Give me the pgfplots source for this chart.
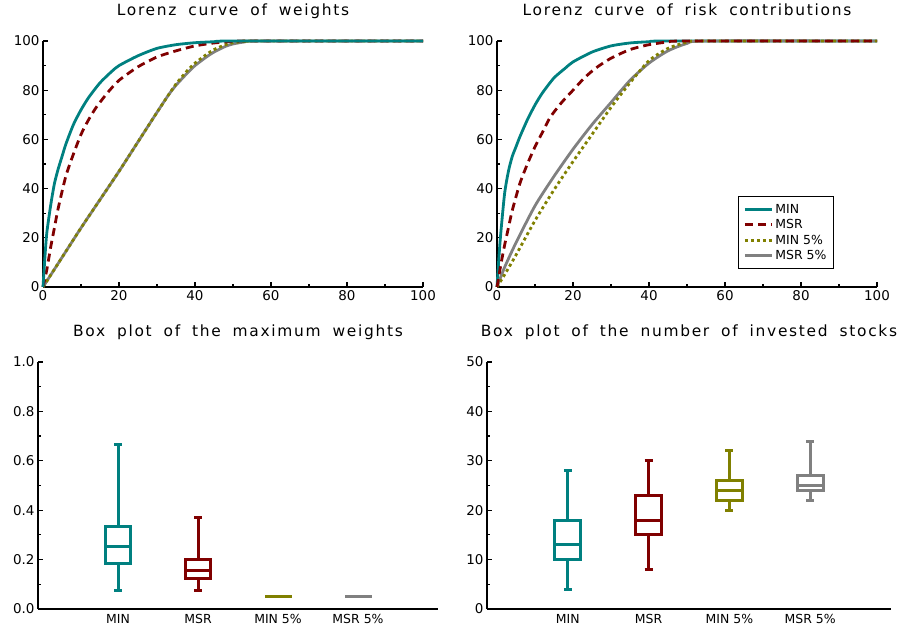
\documentclass[border=0pt]{standalone}
\usepackage{fontspec}
\setmainfont{DejaVu Sans}
\newfontfamily\titlefont[LetterSpace=11,WordSpace=1.8]{DejaVu Sans}
\usepackage{pgfplots}
\pgfplotsset{compat=1.18}
\usepgfplotslibrary{statistics}
\definecolor{cteal}{RGB}{0,128,128}
\definecolor{cred}{RGB}{128,0,0}
\definecolor{colive}{RGB}{128,128,0}
\definecolor{cgray}{RGB}{128,128,128}
\pgfplotsset{
  base/.style={
    scale only axis, clip=false,
    axis x line*=bottom, axis y line*=left,
    axis line style={line width=2.8bp,-},
    tick style={line width=1.2bp,black},
    major tick length=5bp, minor tick length=3bp,
    title style={font=\titlefont\fontsize{15.5}{15.5}\selectfont, at={(0.5,1)}, anchor=base, yshift=20bp},
    tick label style={font=\fontsize{13.5}{13.5}\selectfont},
    /pgf/number format/assume math mode=true,
  },
  lor/.style={base, width=380bp, height=246bp,
    xmin=0,xmax=100,ymin=0,ymax=100,
    xtick={0,20,40,60,80,100}, ytick={0,20,40,60,80,100}, minor tick num=1},
  bx/.style={base, width=400bp, height=247bp,
    xmin=0,xmax=5, xtick={1,2,3,4}, xticklabels={MIN,MSR,MIN 5\%,MSR 5\%},
    x tick label style={font=\fontsize{12.5}{12.5}\selectfont, yshift=-2bp},
    major x tick style={draw=none}, minor y tick num=1,
    boxplot/draw direction=y},
  cmin/.style={cteal, line width=2.8bp, smooth, tension=0.4},
  cmsr/.style={cred, line width=2.8bp, dash pattern=on 8bp off 5bp, smooth, tension=0.4},
  cmin5/.style={colive, line width=2.8bp, dash pattern=on 3bp off 3bp, smooth, tension=0.4},
  cmsr5/.style={cgray, line width=2.8bp, smooth, tension=0.4},
  bxs/.style={line width=3bp,
    boxplot/every whisker/.append style={line width=3bp},
    boxplot/every box/.append style={line width=3bp},
    boxplot/every median/.append style={line width=3bp}},
}
\begin{document}
\begin{tikzpicture}
\useasboundingbox (0,0) rectangle (899bp,630bp);
% Top-left
\begin{axis}[lor, at={(43bp,343bp)}, anchor=south west, title={Lorenz curve of weights}]
\addplot[cmsr5] coordinates {(0,0)(5,12)(10,24)(15,35.5)(20,47)(25,59)(30,71)(33,78)(35,82)(38,87)(40,90)(43,93.5)(45,95.5)(48,97.8)(50,98.8)(53,99.6)(56,100)(100,100)};
\addplot[cmin5] coordinates {(0,0)(5,12)(10,24)(15,35.5)(20,47)(25,59)(30,71)(33,78)(35,82.5)(38,88)(40,91)(43,94.5)(45,96.5)(48,98.5)(50,99.3)(53,99.8)(55,100)(100,100)};
\addplot[cmsr] coordinates {(0,0)(1,7)(2,16)(3,24)(4,32)(6,45)(8,54)(10,62)(12,68)(14,73)(17,79)(20,84)(25,89.5)(30,93.5)(35,96)(40,98)(45,99.2)(50,99.8)(55,100)(100,100)};
\addplot[cmin] coordinates {(0,0)(0.5,12)(1,22)(2,33)(3,42)(4,48)(5,53)(6,58)(8,66)(10,72)(12,77)(15,83)(18,87.5)(20,90)(25,94)(30,97)(35,98.5)(40,99.3)(45,99.7)(50,100)(100,100)};
\end{axis}
% Top-right
\begin{axis}[lor, at={(497bp,343bp)}, anchor=south west, title={Lorenz curve of risk contributions},
  legend style={at={(0.887,0.37)}, anchor=north east, draw=black, line width=1.2bp,
    font=\fontsize{12.5}{12.5}\selectfont, inner xsep=5bp, inner ysep=6bp, row sep=0.5bp},
  legend cell align=left,
  legend image code/.code={\draw[#1, line width=3bp] (0bp,0bp) -- (27bp,0bp);}]
\addplot[cmin, forget plot] coordinates {(0,0)(0.5,12)(1,22)(2,38)(3,47)(4,53)(5,57)(6,61)(8,68)(10,74)(12,79)(15,85)(18,89)(20,91.5)(25,95.5)(30,98)(35,99.2)(40,99.7)(45,100)(100,100)};
\addplot[cmsr5, forget plot] coordinates {(0,0)(2,8)(5,18)(10,33)(15,45)(20,56)(25,66)(30,75)(35,84)(40,91)(45,96)(50,99)(55,100)(100,100)};
\addplot[cmin5, forget plot] coordinates {(0,0)(2,5)(5,13)(10,27)(15,39.5)(20,51)(25,62)(30,73)(35,83)(40,92)(45,97)(50,99.5)(54,100)(100,100)};
\addplot[cmsr, forget plot] coordinates {(0,0)(1,9)(2,17)(3,24)(4,31)(6,42)(8,50)(10,57)(12,63)(14,69)(17,75)(20,80)(23,85)(26,89)(30,93)(35,96.5)(40,98.5)(45,99.6)(50,100)(100,100)};
\addlegendimage{cteal}\addlegendentry{MIN}
\addlegendimage{cred, dash pattern=on 8bp off 5bp}\addlegendentry{MSR}
\addlegendimage{colive, dash pattern=on 3bp off 3bp}\addlegendentry{MIN 5\%}
\addlegendimage{cgray}\addlegendentry{MSR 5\%}
\end{axis}
% Bottom-left
\begin{axis}[bx, at={(38bp,21bp)}, anchor=south west, title={Box plot of the maximum weights},
  ymin=0,ymax=1, ytick={0,0.2,0.4,0.6,0.8,1},
  yticklabel style={/pgf/number format/.cd,fixed,fixed zerofill,precision=1}]
\addplot[cteal, bxs, boxplot prepared={draw position=1, lower whisker=0.075, lower quartile=0.185, median=0.255, upper quartile=0.335, upper whisker=0.665, box extend=0.32, whisker extend=0.1}] coordinates {};
\addplot[cred, bxs, boxplot prepared={draw position=2, lower whisker=0.075, lower quartile=0.125, median=0.155, upper quartile=0.202, upper whisker=0.37, box extend=0.32, whisker extend=0.1}] coordinates {};
\addplot[colive, bxs, boxplot prepared={draw position=3, lower whisker=0.049, lower quartile=0.049, median=0.05, upper quartile=0.051, upper whisker=0.051, box extend=0.3, whisker extend=0.1}] coordinates {};
\addplot[cgray, bxs, boxplot prepared={draw position=4, lower whisker=0.049, lower quartile=0.049, median=0.05, upper quartile=0.051, upper whisker=0.051, box extend=0.3, whisker extend=0.1}] coordinates {};
\end{axis}
% Bottom-right
\begin{axis}[bx, at={(487bp,21bp)}, anchor=south west, width=404bp, title={Box plot of the number of invested stocks},
  ymin=0,ymax=50, ytick={0,10,20,30,40,50}]
\addplot[cteal, bxs, boxplot prepared={draw position=1, lower whisker=4, lower quartile=10, median=13, upper quartile=18, upper whisker=28, box extend=0.32, whisker extend=0.1}] coordinates {};
\addplot[cred, bxs, boxplot prepared={draw position=2, lower whisker=8, lower quartile=15, median=18, upper quartile=23, upper whisker=30, box extend=0.32, whisker extend=0.1}] coordinates {};
\addplot[colive, bxs, boxplot prepared={draw position=3, lower whisker=20, lower quartile=22, median=24, upper quartile=26, upper whisker=32, box extend=0.32, whisker extend=0.1}] coordinates {};
\addplot[cgray, bxs, boxplot prepared={draw position=4, lower whisker=22, lower quartile=24, median=25, upper quartile=27, upper whisker=34, box extend=0.32, whisker extend=0.1}] coordinates {};
\end{axis}
\end{tikzpicture}
\end{document}
